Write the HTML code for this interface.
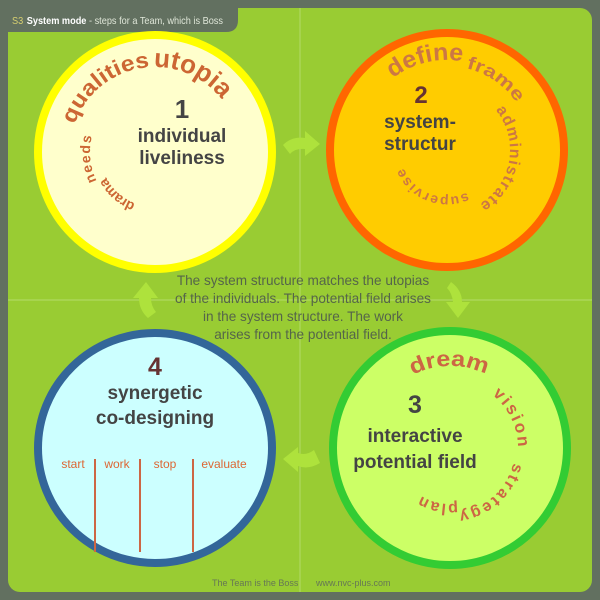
<!DOCTYPE html>
<html><head><meta charset="utf-8"><style>
html,body{margin:0;padding:0;background:#627060;}
svg{display:block;font-family:"Liberation Sans",sans-serif;}
</style></head><body>
<svg width="600" height="600" viewBox="0 0 600 600" xmlns="http://www.w3.org/2000/svg">
<defs>
<path id="c1a" d="M70,152 A85,85 0 1 1 240,152 A85,85 0 1 1 70,152"/>
<path id="c1b" d="M155,217 A65,65 0 1 1 155,87 A65,65 0 1 1 155,217"/>
<path id="c1c" d="M155,207 A55,55 0 1 1 155,97 A55,55 0 1 1 155,207"/>
<path id="c2a" d="M447,240 A90,90 0 1 1 447,60 A90,90 0 1 1 447,240"/>
<path id="c2b" d="M447,234 A84,84 0 1 1 447,66 A84,84 0 1 1 447,234"/>
<path id="c2c" d="M447,213 A63,63 0 1 1 447,87 A63,63 0 1 1 447,213"/>
<path id="c2d" d="M494,150 A47,47 0 1 1 400,150 A47,47 0 1 1 494,150"/>
<path id="c3a" d="M368,448 A82,82 0 1 1 532,448 A82,82 0 1 1 368,448"/>
<path id="c3b" d="M382,448 A68,68 0 1 1 518,448 A68,68 0 1 1 382,448"/>
<path id="c3c" d="M515,448 A65,65 0 1 1 385,448 A65,65 0 1 1 515,448"/>
<path id="c3d" d="M506,448 A56,56 0 1 1 394,448 A56,56 0 1 1 506,448"/>
</defs>
<rect x="8" y="8" width="584" height="584" rx="12" fill="#99cc33"/>
<path d="M0,0 H238 V20 Q238,32 226,32 H0 Z" fill="#627060"/>
<text x="12" y="24" font-size="10.5" textLength="211" lengthAdjust="spacingAndGlyphs"><tspan fill="#d8d070">S3</tspan><tspan fill="#ffffff" font-weight="bold" dx="4">System mode</tspan><tspan fill="#dfe6d8"> - steps for a Team, which is Boss</tspan></text>
<line x1="300" y1="8" x2="300" y2="592" stroke="#b0d860" stroke-width="1.2"/>
<line x1="8" y1="300" x2="592" y2="300" stroke="#b0d860" stroke-width="1.2"/>

<circle cx="155" cy="152" r="117" fill="#ffffcc" stroke="#ffff00" stroke-width="8"/>
<circle cx="447" cy="150" r="117" fill="#ffcc00" stroke="#ff6600" stroke-width="8"/>
<ellipse cx="155" cy="448" rx="117" ry="115" fill="#ccffff" stroke="#336699" stroke-width="8"/>
<circle cx="450" cy="448" r="117" fill="#ccff66" stroke="#33cc33" stroke-width="8"/>

<g fill="#aee23c">
<path d="M283,145 Q292,136 305,138 L305,131 L320,144 L305,156 L305,149 Q295,148 290,154 Z"/>
<path d="M451,282 Q462,290 462,302 L470,302 L458,318 L446,302 L453,302 Q452,293 447,288 Z"/>
<path d="M320,463 Q308,470 298,466 L298,472 L283,459 L298,447 L298,453 Q306,456 314,450 Z"/>
<path d="M148,318 Q139,310 139,298 L133,298 L146,282 L158,298 L151,298 Q151,306 156,312 Z"/>
</g>

<g fill="#cc6633" font-weight="bold">
<text font-size="22"><textPath href="#c1a" startOffset="28" textLength="100" lengthAdjust="spacingAndGlyphs">qualities</textPath></text>
<text font-size="26"><textPath href="#c1a" startOffset="132" textLength="78" lengthAdjust="spacingAndGlyphs">utopia</textPath></text>
<text font-size="14"><textPath href="#c1b" startOffset="72" textLength="46">needs</textPath></text>
<text font-size="14"><textPath href="#c1c" startOffset="20" textLength="40">drama</textPath></text>
</g>
<g fill="#cc7744" font-weight="bold">
<text font-size="24"><textPath href="#c2a" startOffset="224" textLength="74" lengthAdjust="spacingAndGlyphs">define</textPath></text>
<text font-size="18"><textPath href="#c2b" startOffset="283" textLength="62" lengthAdjust="spacingAndGlyphs">frame</textPath></text>
<text font-size="16"><textPath href="#c2c" startOffset="253" textLength="108">administrate</textPath></text>
<text font-size="14"><textPath href="#c2d" startOffset="53" textLength="76">supervise</textPath></text>
</g>
<g fill="#cc6644" font-weight="bold">
<text font-size="22"><textPath href="#c3a" startOffset="90" textLength="76" lengthAdjust="spacingAndGlyphs">dream</textPath></text>
<text font-size="17"><textPath href="#c3b" startOffset="152" textLength="60">vision</textPath></text>
<text font-size="16"><textPath href="#c3c" startOffset="15" textLength="78">strategy</textPath></text>
<text font-size="16"><textPath href="#c3d" startOffset="80" textLength="38">plan</textPath></text>
</g>

<g fill="#444444" font-weight="bold" text-anchor="middle">
<text x="182" y="118" font-size="26">1</text>
<text x="182" y="142" font-size="19">individual</text>
<text x="182" y="164" font-size="19">liveliness</text>
<text x="421" y="103" font-size="24" fill="#663333">2</text>
<text x="420" y="128" font-size="19">system-</text>
<text x="420" y="150" font-size="19">structur</text>
<text x="155" y="375" font-size="25" fill="#663333">4</text>
<text x="155" y="399" font-size="19">synergetic</text>
<text x="155" y="424" font-size="19">co-designing</text>
<text x="415" y="413" font-size="25">3</text>
<text x="415" y="442" font-size="19">interactive</text>
<text x="415" y="468" font-size="19">potential field</text>
</g>
<g fill="#dd6633" font-size="12" text-anchor="middle">
<text x="73" y="468">start</text>
<text x="117" y="468">work</text>
<text x="165" y="468">stop</text>
<text x="224" y="468">evaluate</text>
</g>
<g stroke="#cc6644" stroke-width="2">
<line x1="95" y1="459" x2="95" y2="552"/>
<line x1="140" y1="459" x2="140" y2="552"/>
<line x1="193" y1="459" x2="193" y2="552"/>
</g>

<g fill="#55654a" font-size="13.6" text-anchor="middle">
<text x="303" y="285">The system structure matches the utopias</text>
<text x="303" y="303">of the individuals. The potential field arises</text>
<text x="303" y="321">in the system structure. The work</text>
<text x="303" y="339">arises from the potential field.</text>
</g>
<g fill="#667755" font-size="9">
<text x="212" y="586">The Team is the Boss</text>
<text x="316" y="586">www.nvc-plus.com</text>
</g>
</svg>
</body></html>
